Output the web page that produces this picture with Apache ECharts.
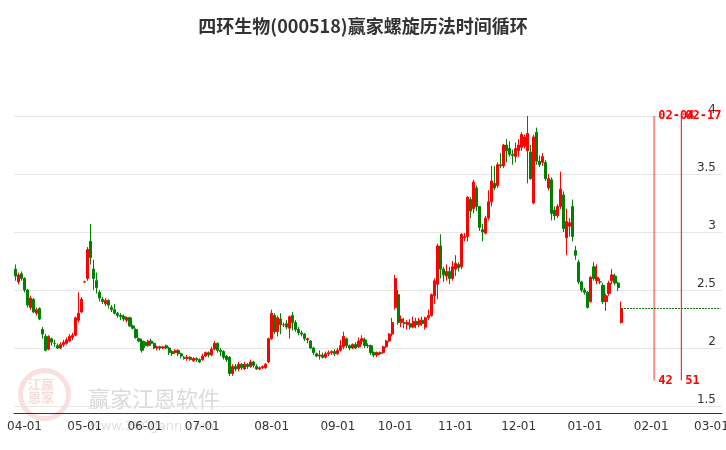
<!DOCTYPE html>
<html>
<head>
<meta charset="utf-8">
<script src="https://cdn.jsdelivr.net/npm/echarts@6/dist/echarts.min.js"></script>
<style>html,body{margin:0;padding:0;background:#fff;overflow:hidden}#main{width:726px;height:450px}</style>
</head>
<body>
<div id="main"></div>
<script>
// 日K数据 [开, 收, 低, 高]
var ohlc = [
	[2.68,2.62,2.58,2.72],[2.57,2.63,2.55,2.65],[2.64,2.60,2.58,2.66],[2.60,2.50,2.48,2.61],[2.50,2.37,2.35,2.51],
	[2.35,2.43,2.33,2.45],[2.42,2.31,2.30,2.43],[2.30,2.33,2.28,2.35],[2.34,2.25,2.24,2.35],[2.16,2.12,2.08,2.18],
	[2.10,1.98,1.97,2.12],[1.99,2.10,1.98,2.11],[2.08,2.05,2.02,2.09],[2.04,2.04,2.01,2.07],[2.02,2.00,1.99,2.04],
	[2.00,2.03,1.99,2.05],[2.03,2.05,2.01,2.07],[2.04,2.07,2.03,2.09],[2.06,2.10,2.05,2.12],[2.09,2.11,2.07,2.13],
	[2.11,2.26,2.10,2.27],[2.24,2.30,2.22,2.48],[2.31,2.42,2.30,2.44],
	// 5月
	[2.57,2.57,2.56,2.58],[2.60,2.85,2.58,2.87],[2.92,2.78,2.72,3.07],[2.68,2.60,2.50,2.76],[2.58,2.52,2.47,2.65],
	[2.48,2.43,2.40,2.50],[2.42,2.40,2.38,2.44],[2.38,2.41,2.36,2.43],[2.41,2.37,2.34,2.42],[2.35,2.33,2.31,2.37],
	[2.33,2.30,2.29,2.38],[2.30,2.28,2.26,2.31],[2.28,2.27,2.24,2.30],[2.27,2.25,2.23,2.29],[2.24,2.26,2.22,2.27],
	[2.26,2.19,2.18,2.27],[2.19,2.17,2.16,2.20],[2.16,2.09,2.08,2.17],[2.08,2.06,2.05,2.09],[2.06,1.98,1.96,2.08],
	// 6月
	[2.05,2.02,2.00,2.06],[2.02,2.06,2.01,2.07],[2.06,2.04,2.02,2.08],[2.04,2.00,1.99,2.05],[2.00,2.01,1.98,2.02],
	[2.01,2.00,1.98,2.02],[2.00,2.01,1.99,2.02],[2.02,2.00,1.99,2.03],[2.00,1.96,1.94,2.01],[1.97,1.95,1.93,1.98],
	[1.96,1.98,1.95,1.99],[1.98,1.95,1.93,1.99],[1.95,1.93,1.91,1.96],[1.92,1.91,1.90,1.93],[1.91,1.92,1.89,1.94],
	[1.92,1.90,1.89,1.93],[1.89,1.91,1.88,1.92],[1.91,1.90,1.88,1.92],[1.90,1.88,1.87,1.91],
	// 7月
	[1.90,1.93,1.89,1.95],[1.93,1.96,1.92,1.97],[1.96,1.94,1.92,1.97],[1.94,1.99,1.93,2.01],[1.99,2.04,1.98,2.06],
	[2.04,1.98,1.96,2.05],[1.98,1.97,1.93,2.00],[1.97,1.92,1.90,1.98],[1.93,1.90,1.88,1.94],[1.92,1.78,1.76,1.93],
	[1.78,1.84,1.76,1.86],[1.84,1.82,1.80,1.86],[1.82,1.86,1.80,1.88],[1.86,1.83,1.81,1.87],[1.82,1.86,1.81,1.88],
	[1.86,1.84,1.82,1.87],[1.84,1.88,1.83,1.90],[1.88,1.85,1.83,1.89],[1.84,1.82,1.81,1.86],[1.82,1.83,1.81,1.84],
	[1.83,1.84,1.82,1.85],[1.83,1.86,1.82,1.87],[1.88,2.08,1.87,2.09],
	// 8月
	[2.08,2.30,2.07,2.33],[2.28,2.14,2.12,2.30],[2.14,2.26,2.10,2.28],[2.25,2.20,2.12,2.30],[2.20,2.20,2.18,2.22],
	[2.21,2.18,2.16,2.24],[2.17,2.27,2.08,2.28],[2.28,2.22,2.15,2.31],[2.22,2.16,2.14,2.24],[2.16,2.13,2.11,2.18],
	[2.13,2.12,2.10,2.15],[2.12,2.08,2.06,2.13],[2.07,2.08,2.04,2.09],[2.06,2.00,1.99,2.07],[2.00,1.96,1.94,2.01],
	[1.95,1.93,1.92,1.96],[1.93,1.94,1.90,1.98],[1.94,1.92,1.91,1.96],[1.92,1.95,1.91,1.97],[1.95,1.96,1.93,1.98],
	[1.96,1.97,1.94,1.98],[1.97,1.95,1.93,1.99],
	// 9月
	[1.95,1.98,1.94,2.00],[1.98,2.02,1.97,2.07],[2.01,2.10,1.99,2.14],[2.08,2.02,2.00,2.09],[2.02,2.00,1.98,2.03],
	[2.00,2.03,1.99,2.04],[2.03,2.00,1.99,2.05],[2.01,2.06,2.00,2.09],[2.06,2.08,2.03,2.11],[2.07,2.02,2.00,2.09],
	[2.02,2.02,2.00,2.04],[2.02,1.96,1.94,2.03],[1.96,1.94,1.92,1.97],[1.94,1.96,1.92,1.97],[1.96,1.95,1.94,1.97],
	[1.96,2.01,1.95,2.02],[2.01,2.06,2.00,2.07],[2.06,2.12,2.05,2.13],[2.12,2.22,2.10,2.26],
	// 10月
	[2.35,2.60,2.33,2.63],[2.46,2.22,2.20,2.50],[2.22,2.25,2.18,2.28],[2.22,2.21,2.17,2.26],[2.20,2.22,2.16,2.24],
	[2.21,2.18,2.16,2.25],[2.18,2.23,2.17,2.27],[2.23,2.20,2.17,2.26],[2.20,2.24,2.18,2.26],[2.24,2.21,2.19,2.27],
	[2.18,2.26,2.16,2.27],[2.26,2.28,2.24,2.33],
	[2.28,2.46,2.27,2.47],[2.45,2.58,2.38,2.60],[2.55,2.88,2.42,2.90],[2.88,2.68,2.60,2.98],[2.68,2.63,2.57,2.70],
	[2.62,2.66,2.58,2.72],[2.66,2.60,2.55,2.70],[2.60,2.70,2.58,2.75],
	// 11月
	[2.68,2.73,2.62,2.80],[2.72,2.69,2.66,2.74],[2.70,2.98,2.68,2.99],[2.95,2.96,2.92,2.99],[2.96,3.30,2.92,3.31],
	[3.28,3.18,3.12,3.30],[3.20,3.43,3.16,3.45],[3.38,3.22,3.18,3.40],[3.22,3.04,3.01,3.12],[3.02,3.00,2.92,3.07],
	[2.99,3.12,2.98,3.14],[3.12,3.26,3.10,3.36],[3.26,3.44,3.22,3.57],[3.42,3.38,3.36,3.57],[3.40,3.58,3.38,3.60],
	[3.58,3.57,3.55,3.68],[3.57,3.75,3.55,3.76],[3.75,3.70,3.60,3.80],[3.72,3.67,3.65,3.78],[3.67,3.66,3.58,3.71],
	[3.65,3.72,3.60,3.77],
	// 12月
	[3.70,3.75,3.65,3.80],[3.73,3.84,3.70,3.86],[3.74,3.82,3.72,3.84],[3.70,3.85,3.42,4.00],[3.69,3.46,3.45,3.75],
	[3.25,3.82,3.24,3.84],[3.86,3.61,3.58,3.90],[3.61,3.58,3.56,3.66],[3.60,3.65,3.57,3.68],[3.60,3.46,3.44,3.62],
	[3.38,3.46,3.36,3.50],[3.45,3.16,3.10,3.47],[3.19,3.14,3.10,3.22],[3.14,3.22,3.12,3.24],[3.22,3.37,3.20,3.52],
	[3.32,3.03,3.00,3.35],[2.95,3.09,2.80,3.20],[3.05,3.08,2.96,3.12],[3.22,2.96,2.92,3.28],[2.84,2.80,2.76,2.88],
	[2.74,2.57,2.55,2.76],[2.57,2.50,2.48,2.58],
	// 1月
	[2.50,2.48,2.46,2.52],[2.48,2.35,2.34,2.49],[2.40,2.61,2.39,2.62],[2.70,2.60,2.58,2.74],[2.58,2.61,2.55,2.72],
	[2.57,2.57,2.55,2.60],[2.54,2.40,2.38,2.56],[2.40,2.45,2.32,2.47],[2.47,2.56,2.45,2.58],[2.58,2.63,2.55,2.68],
	[2.62,2.56,2.54,2.64],[2.56,2.52,2.49,2.57],[2.22,2.34,2.21,2.40]
];
var startDate = '2024-03-27';
var endDate = '2025-03-06';
var holidays = ['2024-04-04','2024-04-05','2024-05-01','2024-05-02','2024-05-03','2024-06-10',
	'2024-09-16','2024-09-17','2024-10-01','2024-10-02','2024-10-03','2025-01-01'];
var cycleDates = ['2025-02-04', '2025-02-17'];
var cycleDays = ['42', '51'];
var lastClose = 2.34;

function fmt(d) {
	var m = d.getUTCMonth() + 1, day = d.getUTCDate();
	return d.getUTCFullYear() + '-' + (m < 10 ? '0' : '') + m + '-' + (day < 10 ? '0' : '') + day;
}
// 交易日(含未来工作日)
var dates = [];
for (var t = new Date(startDate + 'T00:00:00Z'); fmt(t) <= endDate; t.setUTCDate(t.getUTCDate() + 1)) {
	var wd = t.getUTCDay();
	if (wd === 0 || wd === 6) continue;
	if (holidays.indexOf(fmt(t)) >= 0) continue;
	dates.push(fmt(t));
}
var lastDataDate = dates[ohlc.length - 1];

function isMonthStart(idx) {
	if (idx === 0) return false;
	return dates[idx].substr(5, 2) !== dates[idx - 1].substr(5, 2);
}

var markPoints = [];
var cycleSeries = [];
cycleDates.forEach(function(d, i) {
	cycleSeries.push({
		type: 'line',
		data: [[d, 4], [d, 1.72]],
		symbol: 'none',
		silent: true,
		lineStyle: { color: i === 0 ? 'rgba(255,60,60,0.6)' : '#ff0000', width: i === 0 ? 2 : 1 },
		z: 3
	});
	markPoints.push({ coord: [d, 4], label: { formatter: d.substr(5) } });
	markPoints.push({ coord: [d, 1.72], label: { formatter: cycleDays[i] } });
});

var myChart = echarts.init(document.getElementById('main'));
var option = {
	animation: false,
	title: {
		text: '四环生物(000518)赢家螺旋历法时间循环',
		left: 'center',
		top: 12,
		textStyle: { fontSize: 18, fontWeight: 'bold', color: '#333', fontFamily: 'Noto Sans CJK SC' }
	},
	graphic: [
		{ type: 'circle', left: 18, top: 368, shape: { r: 24 }, style: { fill: 'none', stroke: 'rgba(220,80,80,0.18)', lineWidth: 5 }, z: 0 },
		{ type: 'text', left: 28, top: 378, style: { text: '江赢\n恩家', fill: 'rgba(220,80,80,0.2)', font: 'bold 13px "Noto Sans CJK SC"' }, z: 0 },
		{ type: 'text', left: 88, top: 388, style: { text: '赢家江恩软件', fill: 'rgba(150,150,150,0.35)', font: '22px "Noto Sans CJK SC"' }, z: 0 },
		{ type: 'text', left: 90, top: 420, style: { text: 'www.360gann.com', fill: 'rgba(150,150,150,0.3)', font: '13px "DejaVu Sans"' }, z: 0 }
	],
	grid: { left: 14, right: 4, top: 116, bottom: 44, containLabel: false, outerBoundsMode: 'none' },
	xAxis: {
		type: 'category',
		data: dates,
		offset: 7,
		boundaryGap: true,
		axisLine: { lineStyle: { color: '#333' } },
		axisTick: { interval: function(i) { return isMonthStart(i); }, length: 6, lineStyle: { color: '#333' } },
		axisLabel: {
			interval: function(i) { return isMonthStart(i); },
			formatter: function(v) { return v.substr(5, 2) + '-01'; },
			color: '#333', fontSize: 12, margin: 8, fontFamily: 'DejaVu Sans'
		},
		splitLine: { show: false }
	},
	yAxis: {
		type: 'value',
		position: 'right',
		min: 1.5,
		max: 4,
		interval: 0.5,
		axisLine: { show: false },
		axisTick: { show: false },
		axisLabel: { inside: true, margin: 6, color: '#333', fontSize: 12, fontFamily: 'DejaVu Sans', verticalAlign: 'bottom' },
		splitLine: { lineStyle: { color: '#e6e6e6' } }
	},
	series: [{
		type: 'candlestick',
		data: ohlc,
		barWidth: 2.6,
		itemStyle: { color: '#ff0000', color0: '#008000', borderColor: '#ff0000', borderColor0: '#008000', borderWidth: 1 },
		markLine: {
			silent: true, symbol: 'none', label: { show: false },
			lineStyle: { color: '#1a6b1a', width: 1, type: [2, 1] },
			data: [[{ coord: [lastDataDate, lastClose] }, { coord: [dates[dates.length - 1], lastClose] }]]
		},
		markPoint: {
			symbol: 'circle',
			symbolSize: 0,
			label: { show: true, position: 'right', distance: 4, color: '#ff0000', fontWeight: 'bold', fontSize: 12, fontFamily: 'DejaVu Sans Mono' },
			data: markPoints
		}
	}].concat(cycleSeries)
};
myChart.setOption(option);
</script>
</body>
</html>
